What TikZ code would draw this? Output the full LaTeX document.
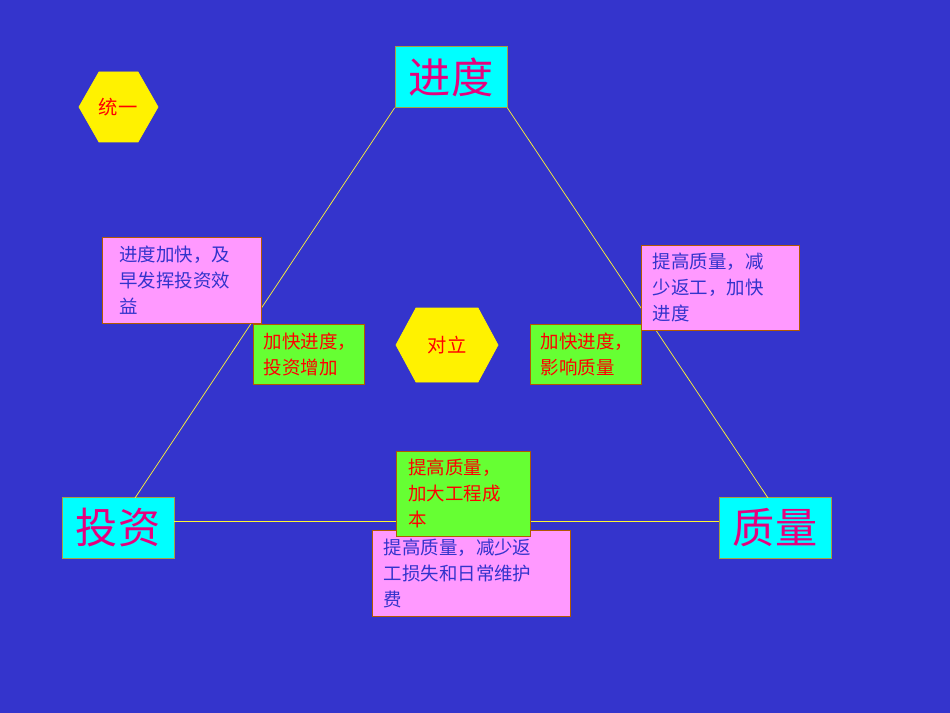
\documentclass[tikz,border=0pt]{standalone}
\usepackage{fontspec}
\setmainfont{Noto Sans CJK SC}
\usetikzlibrary{positioning}
\definecolor{bgblue}{HTML}{3434CC}
\definecolor{boxcyan}{HTML}{00FFFF}
\definecolor{boxpink}{HTML}{FF99FF}
\definecolor{boxgreen}{HTML}{66FF33}
\definecolor{txtred}{HTML}{FF0000}
\definecolor{txtmag}{HTML}{E6007E}
\definecolor{txtblue}{HTML}{3333CC}
\tikzset{
  bigbox/.style={draw=yellow!60!black,fill=boxcyan,minimum width=2.24cm,minimum height=1.22cm,
    text=txtmag,font=\fontsize{24}{26}\selectfont},
  notebox/.style={draw=orange!70!black,fill=boxpink,anchor=north west,text=txtblue,
    align=left,inner sep=0pt,font=\fontsize{10.5}{14.8}\selectfont},
  greenbox/.style={draw=orange!70!black,fill=boxgreen,anchor=north west,text=txtred,
    align=left,inner sep=0pt,font=\fontsize{10.5}{14.8}\selectfont},
  hexfill/.style={fill=yellow,draw=yellow},
  link/.style={draw=yellow!80!white,thin}
}
\begin{document}
\begin{tikzpicture}[x=0.02cm,y=-0.02cm]
  \fill[bgblue] (0,0) rectangle (950,713);
  \useasboundingbox (0,0) rectangle (950,713);

  % corners
  \node[bigbox] (jindu) at (451,77) {进度};
  \node[bigbox] (touzi) at (118,528) {投资};
  \node[bigbox] (zhiliang) at (775,528) {质量};

  % triangle
  \draw[link] (jindu.south west) -- (135,498);
  \draw[link] (jindu.south east) -- (768,498);
  \draw[link] (touzi.east |- 0,521) -- (zhiliang.west |- 0,521);

  % hexagons
  \filldraw[hexfill] (79,107) -- (99,72) -- (138,72) -- (158,107) -- (138,142) -- (99,142) -- cycle;
  \node[text=txtred,font=\fontsize{11}{13}\selectfont] (tongyi) at (118,107) {统一};
  \filldraw[hexfill] (396,345) -- (416,308) -- (478,308) -- (498,345) -- (478,382) -- (416,382) -- cycle;
  \node[text=txtred,font=\fontsize{11}{13}\selectfont] (duili) at (447,345) {对立};

  % notes
  \node[notebox,minimum width=3.18cm,minimum height=1.72cm,text width=2.9cm] (note1) at (102,237)
    {\hspace*{0.2cm}\parbox[t]{2.8cm}{进度加快，及\\早发挥投资效\\益}};
  \node[notebox,minimum width=3.16cm,minimum height=1.7cm,text width=3.1cm] (note2) at (641,245)
    {\hspace*{0.2cm}\parbox[t]{2.8cm}{提高质量，减\\少返工，加快\\进度}};
  \node[notebox,minimum width=3.96cm,minimum height=1.72cm,text width=3.9cm] (note3) at (372,530)
    {\hspace*{0.2cm}\parbox[t]{3.6cm}{提高质量，减少返\\工损失和日常维护\\费}};

  \node[greenbox,minimum width=2.22cm,minimum height=1.2cm,text width=2.2cm] (green1) at (253,324)
    {\hspace*{0.2cm}\parbox[t]{2cm}{加快进度，\\投资增加}};
  \node[greenbox,minimum width=2.22cm,minimum height=1.2cm,text width=2.2cm] (green2) at (530,324)
    {\hspace*{0.2cm}\parbox[t]{2cm}{加快进度，\\影响质量}};
  \node[greenbox,minimum width=2.68cm,minimum height=1.7cm,text width=2.6cm] (green3) at (396,451)
    {\hspace*{0.2cm}\parbox[t]{2.4cm}{提高质量，\\加大工程成\\本}};
\end{tikzpicture}
\end{document}
